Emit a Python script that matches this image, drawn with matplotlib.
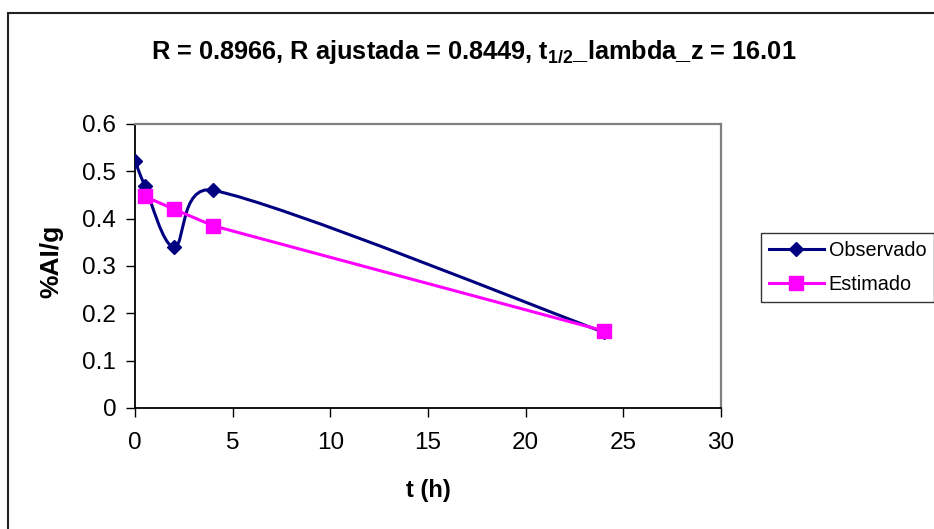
import numpy as np
import matplotlib
matplotlib.use('Agg')
import matplotlib.pyplot as plt
from matplotlib.path import Path
from matplotlib.patches import PathPatch, Rectangle
from matplotlib.lines import Line2D

plt.rcParams['font.family'] = ['Liberation Sans', 'DejaVu Sans']
plt.rcParams['mathtext.fontset'] = 'custom'
plt.rcParams['mathtext.rm'] = 'Liberation Sans:bold'
plt.rcParams['mathtext.default'] = 'rm'

# data
t_obs = [0, 0.5, 2, 4, 24]
y_obs = [0.522, 0.47, 0.34, 0.46, 0.16]
t_est = [0.5, 2, 4, 24]
y_est = [0.447, 0.42, 0.385, 0.163]

xticks = [0, 5, 10, 15, 20, 25, 30]
yticks = [0, 0.1, 0.2, 0.3, 0.4, 0.5, 0.6]
title = r'R = 0.8966, R ajustada = 0.8449, t$_{1/2}$_lambda_z = 16.01'

navy = '#000080'
magenta = '#FF00FF'


def smooth_path(x, y, sx, sy):
	# Excel-like smoothed line: cubic bezier with handles (P[i+1]-P[i-1])/6,
	# capped at half the segment length (worked out in screen-like units)
	P = np.column_stack([np.asarray(x) * sx, np.asarray(y) * sy])
	n = len(P)
	verts = [P[0]]
	codes = [Path.MOVETO]
	for i in range(n - 1):
		half = np.hypot(*(P[i + 1] - P[i])) / 2
		d0 = P[min(i + 1, n - 1)] - P[max(i - 1, 0)]
		d1 = P[min(i + 2, n - 1)] - P[i]
		h0 = d0 / 6
		if np.hypot(*h0) > half:
			h0 = d0 / np.hypot(*d0) * half
		h1 = d1 / 6
		if np.hypot(*h1) > half:
			h1 = d1 / np.hypot(*d1) * half
		verts += [P[i] + h0, P[i + 1] - h1, P[i + 1]]
		codes += [Path.CURVE4] * 3
	verts = np.array(verts) / [sx, sy]
	return Path(verts, codes)


fig = plt.figure(figsize=(9.34, 5.29), dpi=100)
ax = fig.add_axes([135 / 934, 1 - 408 / 529, 586 / 934, 284 / 529])

# screen scale: 586 px per 30 h, 284 px per 0.6
path = smooth_path(t_obs, y_obs, 586 / 30, 284 / 0.6)
ax.add_patch(PathPatch(path, facecolor='none', edgecolor=navy, lw=2.2, zorder=3))
ax.plot(t_obs, y_obs, ls='none', marker='D', ms=7.6, color=navy, zorder=4)
ax.plot(t_est, y_est, color=magenta, lw=2.2, marker='s', ms=10.5, zorder=5)

ax.set_xlim(0, 30)
ax.set_ylim(0, 0.6)
ax.set_xticks(xticks)
ax.set_yticks(yticks)
ax.set_xticklabels([str(v) for v in xticks])
ax.set_yticklabels(['0'] + ['%.1f' % v for v in yticks[1:]])
ax.tick_params(axis='both', direction='out', length=6.5, width=1, labelsize=17.5, color='black')
ax.tick_params(axis='x', pad=11)
ax.tick_params(axis='y', pad=7)

for s in ['left', 'bottom']:
	ax.spines[s].set_color('black')
	ax.spines[s].set_linewidth(1.3)
for s in ['top', 'right']:
	ax.spines[s].set_color('#808080')
	ax.spines[s].set_linewidth(1.6)

ax.set_xlabel('t (h)', fontsize=17, fontweight='bold')
ax.xaxis.set_label_coords(0.5, (408 - 491) / 284)
ax.xaxis.label.set_va('center')
ax.set_ylabel('%AI/g', fontsize=19, fontweight='bold', va='center')
ax.yaxis.set_label_coords((51 - 135) / 586, (408 - 261) / 284)

fig.text(474 / 934, 1 - 52 / 529, title, ha='center', va='center', fontsize=18.3, fontweight='bold')

handles = [Line2D([], [], color=navy, lw=2.2, marker='D', ms=7.6),
		   Line2D([], [], color=magenta, lw=2.2, marker='s', ms=10.5)]
leg = fig.legend(handles, ['Observado', 'Estimado'], loc='upper left',
				 bbox_to_anchor=(761 / 934, 1 - 233 / 529), fontsize=14.3,
				 frameon=True, fancybox=False, shadow=False, borderpad=0.4,
				 handlelength=2.75, handletextpad=0.25, labelspacing=0.75,
				 borderaxespad=0)
leg.get_frame().set_edgecolor('black')
leg.get_frame().set_linewidth(1)

# outer chart border (only left/top visible in the crop)
fig.add_artist(Rectangle((8 / 934, -0.1), 2, 1 - 13 / 529 + 0.1, transform=fig.transFigure,
						 fill=False, edgecolor='#222222', lw=1.5))

fig.savefig('out.png', dpi=100)
